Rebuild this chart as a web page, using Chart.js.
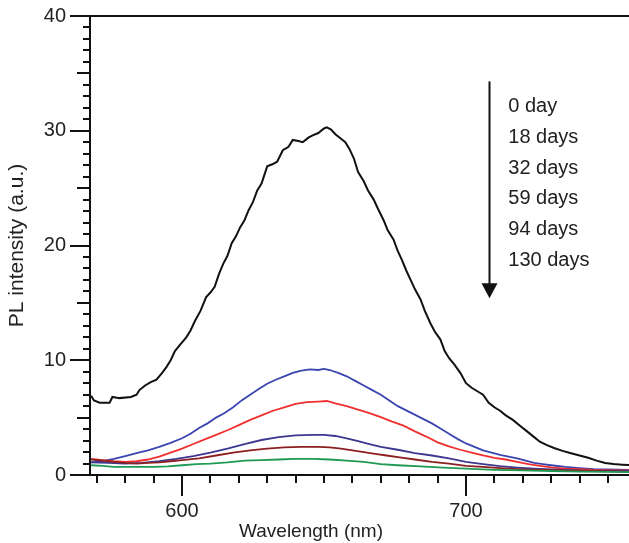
<!DOCTYPE html>
<html>
<head>
<meta charset="utf-8">
<script src="https://cdn.jsdelivr.net/npm/chart.js@4.4.1/dist/chart.umd.min.js"></script>
<style>
  html, body { margin: 0; padding: 0; background: #fff; }
  #wrap { width: 629px; height: 543px; position: relative; }
</style>
</head>
<body>
<div id="wrap"><canvas id="plChart"></canvas></div>
<script>
// PL spectra, [wavelength nm, intensity a.u.]
const day0 = [
  [568, 6.9], [569, 6.5], [571, 6.3], [574.5, 6.3], [575.5, 6.8], [578, 6.7], [582, 6.8],
  [584, 7.0], [585, 7.4], [587, 7.8], [589, 8.1], [591, 8.3], [593, 8.9], [594.5, 9.4],
  [596, 10.0], [597.5, 10.8], [599.5, 11.4], [601.5, 12.0], [603, 12.6], [604.5, 13.4],
  [606.5, 14.3], [608.5, 15.5], [610, 15.9], [611.5, 16.4], [613, 17.5], [614.5, 18.4],
  [616, 19.1], [617.5, 20.2], [619, 20.8], [620.5, 21.6], [622, 22.2], [623.5, 23.1],
  [625, 23.8], [626.5, 24.8], [628, 25.4], [630, 26.9], [632, 27.1], [633.5, 27.3],
  [635.5, 28.3], [637.5, 28.6], [639, 29.2], [641, 29.1], [642.5, 29.0], [644.5, 29.4],
  [646, 29.6], [648, 29.8], [650, 30.2], [651, 30.3], [652.5, 30.1], [654, 29.7],
  [656, 29.3], [657.5, 29.0], [659, 28.4], [660.5, 27.6], [662, 26.4], [664, 25.6],
  [665.5, 24.8], [667.5, 24.0], [669, 23.2], [671, 22.2], [672.5, 21.3], [674.5, 20.5],
  [676, 19.5], [677.5, 18.7], [679, 17.8], [680.5, 17.0], [682, 16.2], [684, 15.3],
  [685.5, 14.3], [687.5, 13.2], [689, 12.5], [691, 11.8], [692.5, 10.8], [694, 10.2],
  [696, 9.6], [698, 8.9], [700, 8.0], [702, 7.6], [704, 7.3], [706, 7.0], [708, 6.3],
  [710, 5.9], [712, 5.6], [714, 5.2], [716.5, 4.8], [719, 4.3], [721.5, 3.8], [724, 3.3],
  [726, 2.9], [728.5, 2.6], [731, 2.35], [734, 2.1], [737, 1.9], [740, 1.7], [743, 1.5],
  [746, 1.25], [749, 1.05], [752, 0.95], [755, 0.9], [757.5, 0.87]
];
const day18 = [
  [568, 1.1], [572, 1.2], [576, 1.4], [580, 1.65], [584, 1.9], [588, 2.15], [592, 2.45],
  [596, 2.8], [600, 3.2], [603, 3.6], [606, 4.1], [609, 4.5], [612, 5.0], [615, 5.4],
  [618, 5.9], [621, 6.5], [624, 7.0], [627, 7.5], [630, 7.95], [633, 8.3], [636, 8.6],
  [639, 8.9], [642, 9.1], [645, 9.2], [648, 9.15], [650, 9.25], [652, 9.15], [655, 8.9],
  [658, 8.6], [661, 8.2], [664, 7.8], [667, 7.4], [670, 7.0], [673, 6.5], [676, 6.0],
  [680, 5.5], [684, 5.0], [688, 4.5], [691, 4.05], [694, 3.6], [697, 3.15], [700, 2.75],
  [703, 2.45], [706, 2.15], [709, 1.95], [712, 1.75], [715, 1.6], [718, 1.45], [721, 1.25],
  [724, 1.05], [727, 0.95], [730, 0.85], [735, 0.7], [740, 0.6], [745, 0.52], [750, 0.48],
  [757.5, 0.45]
];
const day32 = [
  [568, 1.4], [572, 1.3], [576, 1.2], [580, 1.15], [584, 1.2], [588, 1.35], [592, 1.6],
  [596, 1.95], [600, 2.3], [604, 2.7], [608, 3.1], [612, 3.5], [616, 3.9], [620, 4.35],
  [624, 4.8], [628, 5.2], [632, 5.6], [636, 5.9], [640, 6.2], [644, 6.35], [648, 6.4],
  [651, 6.45], [654, 6.25], [658, 6.0], [662, 5.7], [666, 5.4], [670, 5.05], [674, 4.65],
  [678, 4.3], [682, 3.8], [686, 3.35], [690, 2.85], [694, 2.5], [698, 2.2], [702, 1.95],
  [706, 1.7], [710, 1.5], [714, 1.35], [718, 1.15], [722, 0.95], [726, 0.8], [730, 0.67],
  [735, 0.55], [740, 0.5], [745, 0.45], [750, 0.42], [757.5, 0.4]
];
const day59 = [
  [568, 1.1], [574, 1.05], [580, 1.0], [586, 1.05], [592, 1.2], [598, 1.4], [604, 1.65],
  [610, 1.95], [616, 2.3], [622, 2.7], [628, 3.05], [634, 3.3], [640, 3.45], [646, 3.5],
  [650, 3.5], [654, 3.4], [658, 3.2], [662, 2.95], [666, 2.7], [670, 2.45], [676, 2.2],
  [682, 1.9], [688, 1.7], [694, 1.45], [700, 1.15], [706, 0.95], [712, 0.78], [718, 0.65],
  [724, 0.55], [730, 0.48], [740, 0.4], [750, 0.38], [757.5, 0.35]
];
const day94 = [
  [568, 1.35], [572, 1.25], [576, 1.15], [580, 1.05], [584, 1.0], [588, 1.05], [592, 1.1],
  [596, 1.2], [600, 1.3], [606, 1.45], [612, 1.7], [618, 1.95], [624, 2.15], [630, 2.3],
  [636, 2.4], [642, 2.45], [648, 2.45], [652, 2.4], [656, 2.3], [660, 2.15], [664, 2.0],
  [668, 1.85], [672, 1.7], [676, 1.55], [682, 1.35], [688, 1.15], [694, 1.0], [700, 0.8],
  [706, 0.7], [712, 0.6], [718, 0.52], [726, 0.45], [735, 0.4], [745, 0.35], [757.5, 0.3]
];
const day130 = [
  [568, 0.85], [572, 0.8], [576, 0.7], [580, 0.7], [585, 0.7], [590, 0.7], [595, 0.75],
  [600, 0.85], [605, 0.95], [610, 1.0], [616, 1.1], [622, 1.25], [628, 1.3], [634, 1.35],
  [640, 1.4], [646, 1.4], [652, 1.35], [658, 1.25], [664, 1.15], [670, 0.95], [676, 0.85],
  [684, 0.75], [692, 0.65], [700, 0.55], [710, 0.45], [720, 0.4], [730, 0.35], [740, 0.3],
  [750, 0.28], [757.5, 0.25]
];

const seriesLabels = ['0 day', '18 days', '32 days', '59 days', '94 days', '130 days'];
const seriesData = [day0, day18, day32, day59, day94, day130];
const seriesColors = ['#111111', '#3a45b0', '#f03030', '#3d3790', '#8c2020', '#1f9a55'];

const xTickValues = [600, 700];
const yTickValues = [0, 10, 20, 30, 40];

const FONT = '"Liberation Sans", Arial, Helvetica, sans-serif';

// tick marks, top frame, arrow and the text legend
const decorations = {
  id: 'decorations',
  afterDraw(chart) {
    const { ctx, chartArea: a, scales: { x, y } } = chart;
    ctx.save();
    ctx.strokeStyle = '#111';
    ctx.lineWidth = 2;
    ctx.beginPath();
    ctx.moveTo(a.left - 1, a.top);
    ctx.lineTo(a.right, a.top);
    for (let v = 0; v <= 40; v++) {
      const len = v % 10 === 0 ? 20 : (v % 5 === 0 ? 13 : 7);
      const py = Math.round(y.getPixelForValue(v));
      ctx.moveTo(a.left, py);
      ctx.lineTo(a.left - len, py);
    }
    for (let v = 570; v <= 750; v += 10) {
      const len = v % 100 === 0 ? 21 : 8;
      const px = Math.round(x.getPixelForValue(v));
      ctx.moveTo(px, a.bottom);
      ctx.lineTo(px, a.bottom + len);
    }
    ctx.stroke();

    // arrow
    const ax = Math.round(x.getPixelForValue(708.2)) + 0.5;
    const ay0 = y.getPixelForValue(34.3);
    const ay1 = y.getPixelForValue(15.4);
    ctx.beginPath();
    ctx.moveTo(ax, ay0);
    ctx.lineTo(ax, ay1 - 10);
    ctx.stroke();
    ctx.fillStyle = '#111';
    ctx.beginPath();
    ctx.moveTo(ax - 8, ay1 - 15);
    ctx.lineTo(ax + 8, ay1 - 15);
    ctx.lineTo(ax, ay1);
    ctx.closePath();
    ctx.fill();

    // text legend
    ctx.fillStyle = '#222';
    ctx.font = '20px ' + FONT;
    ctx.textAlign = 'left';
    ctx.textBaseline = 'alphabetic';
    const lx = x.getPixelForValue(714.9);
    const ly = y.getPixelForValue(31.66);
    seriesLabels.forEach((t, i) => ctx.fillText(t, lx, ly + i * 30.9));

    // x axis title
    ctx.font = '19px ' + FONT;
    ctx.textAlign = 'center';
    ctx.textBaseline = 'middle';
    ctx.fillText('Wavelength (nm)', 311, 532);
    ctx.restore();
  }
};

new Chart(document.getElementById('plChart'), {
  type: 'line',
  data: {
    datasets: seriesData.map((d, i) => ({
      label: seriesLabels[i],
      data: d.map(p => ({ x: p[0], y: p[1] })),
      borderColor: seriesColors[i],
      borderWidth: i === 0 ? 2 : 1.8,
      pointRadius: 0,
      tension: 0,
      fill: false
    })).reverse()
  },
  options: {
    responsive: true,
    maintainAspectRatio: false,
    animation: false,
    layout: { padding: { top: 16, right: 0, left: 0, bottom: 0 } },
    plugins: { legend: { display: false }, tooltip: { enabled: false } },
    scales: {
      x: {
        type: 'linear',
        min: 567.6,
        max: 757.4,
        afterFit: s => { s.height = 68; s.paddingLeft = 0; s.paddingRight = 0; },
        afterBuildTicks: s => { s.ticks = xTickValues.map(v => ({ value: v })); },
        grid: { display: false, drawTicks: false },
        border: { display: true, color: '#111', width: 2 },
        ticks: { padding: 24, color: '#222', font: { family: FONT, size: 20 } }
      },
      y: {
        min: 0,
        max: 40,
        afterFit: s => { s.width = 90; s.paddingTop = 0; s.paddingBottom = 0; },
        afterBuildTicks: s => { s.ticks = yTickValues.map(v => ({ value: v })); },
        grid: { display: false, drawTicks: false },
        border: { display: true, color: '#111', width: 2 },
        ticks: { padding: 24, color: '#222', font: { family: FONT, size: 20 } },
        title: {
          display: true,
          text: 'PL intensity (a.u.)',
          color: '#222',
          font: { family: FONT, size: 21 },
          padding: { top: 5, bottom: 0 }
        }
      }
    }
  },
  plugins: [decorations]
});
</script>
</body>
</html>
